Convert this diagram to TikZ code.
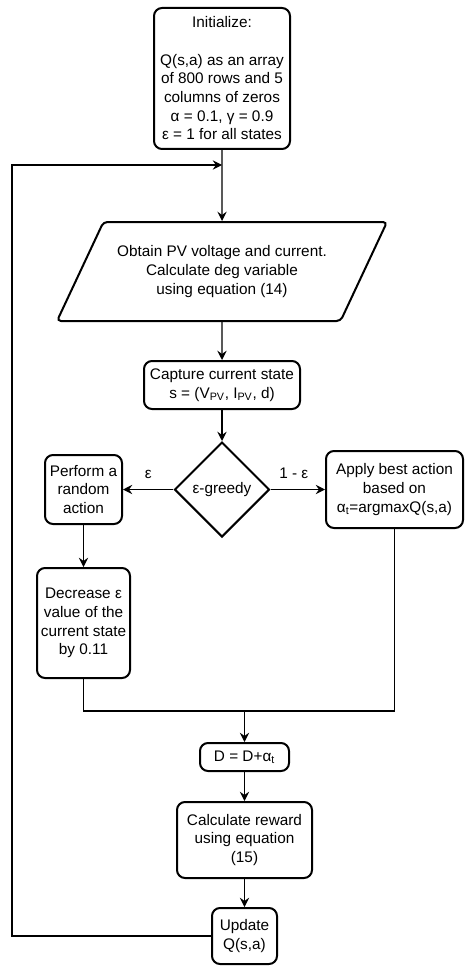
\documentclass[tikz,border=0pt]{standalone}
\usepackage{fontspec}
\setmainfont{Liberation Sans}
\usetikzlibrary{shapes.geometric,arrows.meta}

\begin{document}
\begin{tikzpicture}
  [x=0.75pt, y=-0.75pt, font=\fontsize{11.5}{14}\selectfont,
  box/.style={draw, line width=1.5pt, rounded corners=6pt, align=center, inner sep=1pt},
  io/.style={draw, line width=1.5pt, trapezium, trapezium left angle=52.5, trapezium right angle=127.5,
    trapezium stretches body, rounded corners=3pt, align=center, minimum width=247.5pt, minimum height=74.25pt},
  decision/.style={draw, line width=1.5pt, diamond, minimum size=71.25pt, inner sep=0pt},
  flow/.style={line width=0.9pt, -{Stealth[length=7pt,width=7pt,inset=2.5pt]}},
  link/.style={line width=0.9pt}]
  \useasboundingbox (0,0) rectangle (474,970);
  \node[box, minimum width=102pt, minimum height=105.75pt] (init) at (222,78.5)
    {Initialize:\\[14pt]Q(s,a) as an array\\of 800 rows and 5\\columns of zeros\\α = 0.1, γ = 0.9\\ε = 1 for all states};
  \node[io] (obtain) at (222,271.5)
    {Obtain PV voltage and current.\\Calculate deg variable\\using equation (14)};
  \node[box, minimum width=117pt, minimum height=36pt] (capture) at (222,385)
    {Capture current state\\s = (V\textsubscript{PV}, I\textsubscript{PV}, d)};
  \node[decision] (greedy) at (222,489.5) {ε-greedy};
  \node[box, minimum width=57.75pt, minimum height=51.75pt] (random) at (83.5,489.5)
    {Perform a\\random\\action};
  \node[box, minimum width=102.75pt, minimum height=57.75pt] (best) at (394.5,489.5)
    {Apply best action\\based on\\α\textsubscript{t}=argmaxQ(s,a)};
  \node[box, minimum width=69.75pt, minimum height=82.5pt] (decrease) at (83.5,623)
    {Decrease ε\\value of the\\current state\\by 0.11};
  \node[box, minimum width=66.75pt, minimum height=21pt] (update D) at (244.5,757)
    {D = D+α\textsubscript{t}};
  \node[box, minimum width=101.25pt, minimum height=57pt] (reward) at (244.5,840)
    {Calculate reward\\using equation\\(15)};
  \node[box, minimum width=48.75pt, minimum height=42pt] (update Q) at (244.5,936)
    {Update\\Q(s,a)};
  \coordinate (loop) at (222,165);
  \coordinate (merge) at (244.5,711);

  \draw[flow] (init) -- (obtain);
  \draw[flow] (obtain) -- (capture);
  \draw[flow] (capture) -- (greedy);
  \draw[flow] (greedy) -- node[above=4pt] {ε} (random);
  \draw[flow] (greedy) -- node[above=4pt, xshift=-3pt] {1 - ε} (best);
  \draw[flow] (random) -- (decrease);
  \draw[link] (decrease.south) |- (merge) -| (best.south);
  \draw[flow] (merge) -- (update D);
  \draw[flow] (update D) -- (reward);
  \draw[flow] (reward) -- (update Q);
  \draw[flow] (update Q.west) -| (12,165) -- (loop);
\end{tikzpicture}
\end{document}
